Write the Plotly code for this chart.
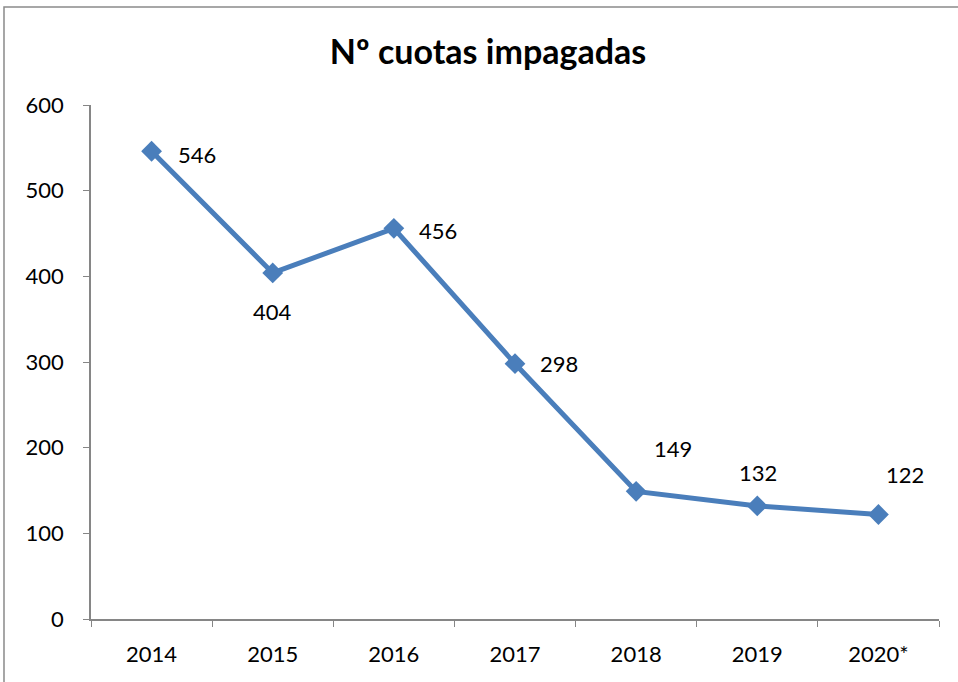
import plotly.graph_objects as go

years = ["2014", "2015", "2016", "2017", "2018", "2019", "2020*"]
cuotas = [546, 404, 456, 298, 149, 132, 122]
label_dx = [45, 0, 44, 44, 37, 1, 27]
label_dy = [-3, -39, -2, 0, 43, 33, 40]

FONT = "Lato, Open Sans, sans-serif"

fig = go.Figure()
fig.add_trace(go.Scatter(
    x=years, y=cuotas, mode="lines+markers",
    line=dict(color="#4A7EBB", width=5),
    marker=dict(symbol="diamond", size=16, color="#4A7EBB"),
    showlegend=False, hoverinfo="x+y",
))

for i, (y, dx, dy) in enumerate(zip(cuotas, label_dx, label_dy)):
    fig.add_annotation(x=i, y=y, text=str(y), showarrow=False,
                       xshift=dx, yshift=dy,
                       font=dict(family=FONT, size=22, color="#000000"))

fig.add_shape(type="rect", xref="paper", yref="paper",
              x0=-0.1026, y0=-0.3, x1=1.2, y1=1.1907,
              line=dict(color="#8A8A8A", width=1.5), fillcolor="rgba(0,0,0,0)", layer="below")

fig.update_layout(
    width=958, height=682,
    margin=dict(l=91, r=19, t=105, b=63),
    paper_bgcolor="white", plot_bgcolor="white",
    font=dict(family=FONT, size=22, color="#000000"),
    title=dict(text="<b>Nº cuotas impagadas</b>", x=488 / 958, xref="container", xanchor="center",
               y=1 - 52 / 682, yref="container", yanchor="middle",
               font=dict(family=FONT, size=34, color="#000000")),
    xaxis=dict(type="category", categoryorder="array", categoryarray=years,
               range=[-0.5, len(years) - 0.5], autorange=False, automargin=False,
               showline=True, linecolor="#868686", linewidth=1.5, tickangle=0,
               ticks="outside", tickson="boundaries", ticklen=6, tickcolor="#868686",
               showgrid=False, zeroline=False, tickfont=dict(size=22), ticklabelstandoff=15),
    yaxis=dict(range=[0, 600], dtick=100, showline=True, linecolor="#868686", linewidth=1.5,
               automargin=False,
               ticks="outside", ticklen=6, tickcolor="#868686",
               showgrid=False, zeroline=False, tickfont=dict(size=22), ticklabelstandoff=15),
)

fig.write_html("out.html", config={"displayModeBar": False},
               post_script="document.body.style.margin='0';")
